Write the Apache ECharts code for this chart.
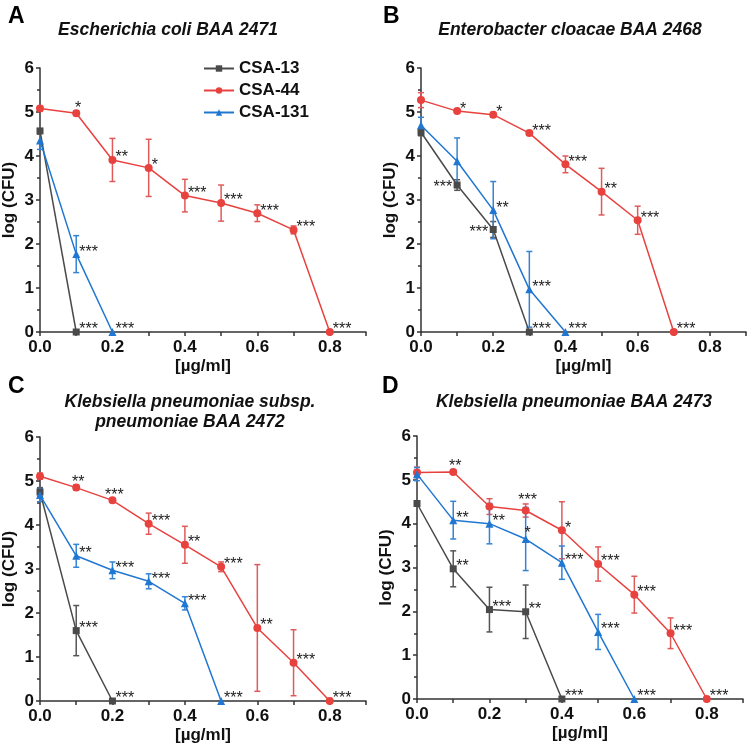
<!DOCTYPE html>
<html><head><meta charset="utf-8">
<script src="https://cdn.jsdelivr.net/npm/echarts@6/dist/echarts.min.js"></script>
<style>html,body{margin:0;padding:0;background:#fff}#c{width:749px;height:748px}</style>
</head><body><div id="c"></div>
<script>
// ---------- DATA ----------
const conc = [0, 0.1, 0.2, 0.3, 0.4, 0.5, 0.6, 0.7, 0.8];
const seriesNames = ['CSA-13', 'CSA-44', 'CSA-131'];
const panelLetters = ['A', 'B', 'C', 'D'];
const panelTitles = [
  'Escherichia coli BAA 2471',
  'Enterobacter cloacae BAA 2468',
  'Klebsiella pneumoniae subsp.\npneumoniae BAA 2472',
  'Klebsiella pneumoniae BAA 2473'
];
const yTickValues = [0, 1, 2, 3, 4, 5, 6];
const xTickLabels = ['0.0', '0.2', '0.4', '0.6', '0.8'];
const yAxisName = 'log (CFU)';
const xAxisName = '[µg/ml]';

// Panel A - Escherichia coli
const a13 = [4.57, 0];
const a13Err = [0.05, 0];
const a13Sig = ['', '***'];
const a44 = [5.08, 4.97, 3.91, 3.73, 3.10, 2.93, 2.70, 2.32, 0];
const a44Err = [0.05, 0.05, 0.49, 0.65, 0.37, 0.41, 0.19, 0.09, 0];
const a44Sig = ['', '*', '**', '*', '***', '***', '***', '***', '***'];
const a131 = [4.35, 1.77, 0];
const a131Err = [0.2, 0.42, 0];
const a131Sig = ['', '***', '***'];

// Panel B - Enterobacter cloacae
const b13 = [4.54, 3.34, 2.33, 0];
const b13Err = [0.08, 0.12, 0.18, 0];
const b13Sig = ['', '***', '***', '***'];
const b44 = [5.27, 5.02, 4.94, 4.52, 3.81, 3.19, 2.54, 0];
const b44Err = [0.17, 0.04, 0.05, 0.04, 0.19, 0.53, 0.32, 0];
const b44Sig = ['', '*', '*', '***', '***', '**', '***', '***'];
const b131 = [4.70, 3.88, 2.77, 0.97, 0];
const b131Err = [0.18, 0.53, 0.65, 0.86, 0];
const b131Sig = ['', '', '**', '***', '***'];

// Panel C - Klebsiella pneumoniae subsp. pneumoniae
const c13 = [4.75, 1.60, 0];
const c13Err = [0.1, 0.57, 0];
const c13Sig = ['', '***', '***'];
const c44 = [5.11, 4.85, 4.56, 4.03, 3.55, 3.05, 1.66, 0.87, 0];
const c44Err = [0.07, 0.06, 0.04, 0.24, 0.42, 0.11, 1.44, 0.75, 0];
const c44Sig = ['', '**', '***', '***', '**', '***', '**', '***', '***'];
const c131 = [4.68, 3.30, 2.97, 2.72, 2.22, 0];
const c131Err = [0.15, 0.26, 0.19, 0.17, 0.15, 0];
const c131Sig = ['', '**', '***', '***', '***', '***'];

// Panel D - Klebsiella pneumoniae
const d13 = [4.46, 2.97, 2.04, 1.99, 0];
const d13Err = [0.05, 0.41, 0.51, 0.61, 0];
const d13Sig = ['', '**', '***', '**', '***'];
const d44 = [5.17, 5.18, 4.39, 4.30, 3.85, 3.08, 2.38, 1.50, 0];
const d44Err = [0.12, 0.05, 0.18, 0.15, 0.65, 0.39, 0.42, 0.35, 0];
const d44Sig = ['', '**', '', '***', '*', '***', '***', '***', '***'];
const d131 = [5.13, 4.08, 4.00, 3.65, 3.11, 1.53, 0];
const d131Err = [0.15, 0.43, 0.46, 0.72, 0.38, 0.40, 0];
const d131Sig = ['', '**', '**', '*', '***', '***', '***'];

// ---------- STYLE ----------
const FONT = '"Liberation Sans", Arial, sans-serif';
const colors = ['#4a4a4a', '#e8423f', '#2077d2'];
const errColors = ['#555555', '#e05a5a', '#3584d4'];
const symbols = ['rect', 'circle', 'triangle'];
const symbolSizes = [7, 8, 8];
// label placement overrides: 't' above, 'tt' higher above, 'l' left; default right
const placement = {
  0: {1: {1: 't'}},
  1: {0: {1: 'l', 2: 'l'}},
  2: {1: {1: 't', 2: 't'}},
  3: {1: {1: 't', 3: 'tt'}, 2: {3: 't'}}
};
const grids = [
  {left: 40, top: 68, width: 326, height: 264},
  {left: 421, top: 68, width: 326, height: 264},
  {left: 40, top: 437, width: 326, height: 264},
  {left: 417, top: 436, width: 326, height: 263}
];
const panels = [
  [[a13, a13Err, a13Sig], [a44, a44Err, a44Sig], [a131, a131Err, a131Sig]],
  [[b13, b13Err, b13Sig], [b44, b44Err, b44Sig], [b131, b131Err, b131Sig]],
  [[c13, c13Err, c13Sig], [c44, c44Err, c44Sig], [c131, c131Err, c131Sig]],
  [[d13, d13Err, d13Sig], [d44, d44Err, d44Sig], [d131, d131Err, d131Sig]]
];

function labelCfg(code) {
  if (code === 't') return {align: 'center', offset: [2, -5]};
  if (code === 'tt') return {align: 'center', offset: [2, -10]};
  if (code === 'l') return {align: 'right', offset: [-5, 3]};
  return {align: 'left', offset: [3, -2]};
}

const series = [];
panels.forEach((panel, gi) => {
  panel.forEach(([vals, errs, sigs], si) => {
    const color = colors[si];
    const ecol = errColors[si];
    series.push({
      type: 'custom', xAxisIndex: gi, yAxisIndex: gi, silent: true, z: 2,
      data: vals.map((v, i) => [conc[i], v, errs[i]]).filter(d => d[2] > 0),
      encode: {x: 0, y: 1},
      renderItem(params, api) {
        const x = api.value(0), y = api.value(1), e = api.value(2);
        const t = api.coord([x, y + e]), b = api.coord([x, y - e]);
        const w = 3;
        const st = {stroke: ecol, lineWidth: 1.5};
        return {type: 'group', children: [
          {type: 'line', shape: {x1: t[0], y1: t[1], x2: b[0], y2: b[1]}, style: st},
          {type: 'line', shape: {x1: t[0] - w, y1: t[1], x2: t[0] + w, y2: t[1]}, style: st},
          {type: 'line', shape: {x1: b[0] - w, y1: b[1], x2: b[0] + w, y2: b[1]}, style: st}
        ]};
      }
    });
    const pl = (placement[gi] && placement[gi][si]) || {};
    series.push({
      type: 'line', name: seriesNames[si], xAxisIndex: gi, yAxisIndex: gi, z: 3,
      clip: false,
      symbol: symbols[si], symbolSize: symbolSizes[si],
      lineStyle: {color, width: 1.5},
      itemStyle: {color},
      data: vals.map((v, i) => {
        const lc = labelCfg(pl[i]);
        return {value: [conc[i], v], label: {align: lc.align, offset: lc.offset}};
      }),
      label: {
        show: true, position: 'inside',
        formatter: p => sigs[p.dataIndex],
        fontFamily: FONT, fontSize: 16, color: '#222', verticalAlign: 'middle'
      }
    });
  });
});

const titles = [];
const letterPos = [[3, 0], [378, 0], [3, 370], [377, 370]];
panelLetters.forEach((l, i) => titles.push({
  text: l, left: letterPos[i][0], top: letterPos[i][1],
  textStyle: {fontFamily: FONT, fontSize: 23, fontWeight: 'bold', color: '#000'}
}));
const titlePos = [[163, 15], [565, 15], [185, 387], [569, 387]];
panelTitles.forEach((t, i) => titles.push({
  text: t, left: titlePos[i][0], top: titlePos[i][1], textAlign: 'center',
  textStyle: {fontFamily: FONT, fontSize: 17.5, fontWeight: 'bold', fontStyle: 'italic', color: '#111', lineHeight: 20}
}));

const axisLineStyle = {color: '#333', width: 1.5};
const option = {
  animation: false,
  backgroundColor: '#fff',
  title: titles,
  legend: {
    data: seriesNames, orient: 'vertical', left: 203, top: 60, padding: 0,
    itemWidth: 30, itemHeight: 8, itemGap: 5,
    textStyle: {fontFamily: FONT, fontSize: 17, fontWeight: 'bold', color: '#111', lineHeight: 17}
  },
  grid: grids,
  xAxis: grids.map((g, i) => ({
    type: 'value', gridIndex: i, min: 0, max: 0.9, interval: 0.1,
    name: xAxisName, nameLocation: 'middle', nameGap: 26,
    nameTextStyle: {fontFamily: FONT, fontSize: 17, fontWeight: 'bold', color: '#111'},
    axisLine: {show: true, lineStyle: axisLineStyle},
    axisTick: {show: true, length: 4, lineStyle: axisLineStyle},
    splitLine: {show: false},
    axisLabel: {
      margin: 7, fontFamily: FONT, fontSize: 17, fontWeight: 'bold', color: '#111',
      showMaxLabel: true,
      formatter: v => { const k = Math.round(v * 10); return k % 2 === 0 ? xTickLabels[k / 2] : ''; }
    }
  })),
  yAxis: grids.map((g, i) => ({
    type: 'value', gridIndex: i, min: yTickValues[0], max: yTickValues[yTickValues.length - 1], interval: 1,
    name: yAxisName, nameLocation: 'middle', nameGap: 22,
    nameTextStyle: {fontFamily: FONT, fontSize: 17, fontWeight: 'bold', color: '#111'},
    axisLine: {show: true, lineStyle: axisLineStyle},
    axisTick: {show: true, length: 4, lineStyle: axisLineStyle},
    minorTick: {show: true, splitNumber: 2, length: 3, lineStyle: axisLineStyle},
    splitLine: {show: false},
    axisLabel: {margin: 6, fontFamily: FONT, fontSize: 17, fontWeight: 'bold', color: '#111'}
  })),
  series
};
const chart = echarts.init(document.getElementById('c'), null, {renderer: 'canvas'});
chart.setOption(option);
</script>
</body></html>
